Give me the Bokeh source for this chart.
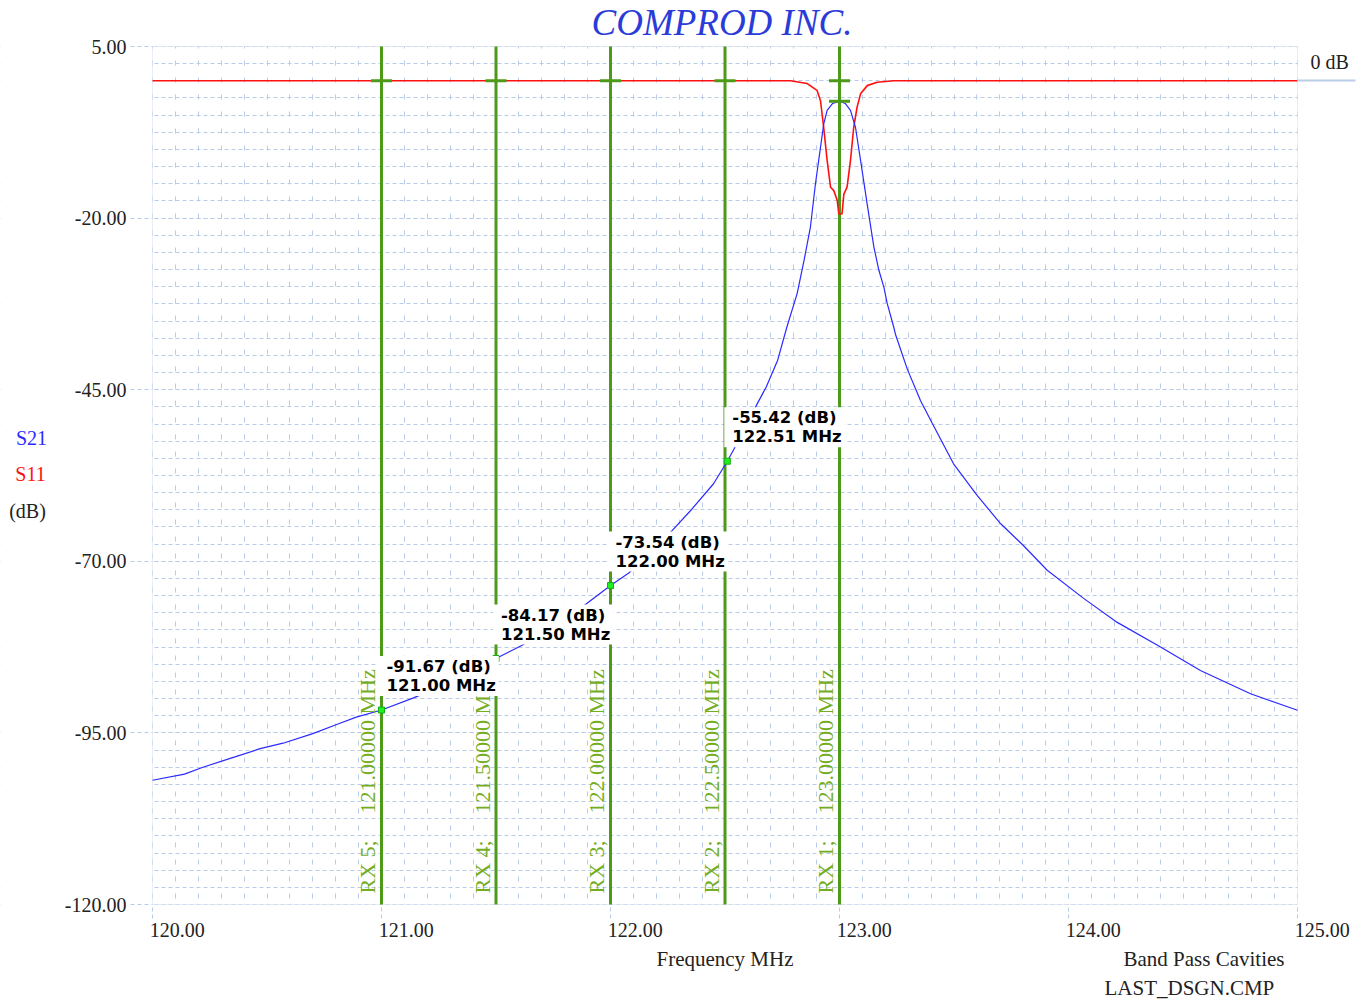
import numpy as np
from bokeh.plotting import figure
from bokeh.models import (FixedTicker, PrintfTickFormatter, LinearAxis, ColumnDataSource,
                          Label, BoxAnnotation)
from bokeh.core.properties import value
from bokeh.embed import file_html
from bokeh.resources import INLINE

# ---------------- data ----------------
s21_freq = [120.00, 120.14, 120.22, 120.36, 120.47, 120.57, 120.70, 120.81, 120.89, 121.00,
            121.14, 121.30, 121.50, 121.61, 121.80, 122.00, 122.08, 122.27, 122.35, 122.45,
            122.51, 122.54, 122.64, 122.68, 122.73, 122.77, 122.815, 122.845, 122.873, 122.895,
            122.917, 122.931, 122.946, 122.97, 123.00, 123.025, 123.048, 123.07, 123.092, 123.121,
            123.15, 123.172, 123.194, 123.208, 123.237, 123.245, 123.296, 123.354, 123.405, 123.498,
            123.601, 123.703, 123.803, 123.907, 124.066, 124.213, 124.402, 124.576, 124.795, 125.00]
s21_db = [-101.9, -101.0, -100.0, -98.5, -97.3, -96.5, -95.1, -93.7, -92.7, -91.67,
          -89.9, -87.6, -84.17, -82.3, -78.6, -73.54, -71.7, -65.5, -62.6, -58.7,
          -55.42, -53.6, -47.1, -44.6, -40.7, -35.9, -31.0, -26.2, -21.3, -15.0,
          -9.7, -6.3, -4.3, -3.3, -2.97, -3.3, -4.3, -6.8, -11.6, -18.0,
          -24.2, -27.6, -30.1, -32.4, -35.9, -37.0, -42.0, -46.6, -49.9, -55.8,
          -60.4, -64.5, -67.7, -71.3, -75.4, -78.9, -82.5, -85.9, -89.3, -91.7]

s11_freq = [120.00, 122.786, 122.859, 122.902, 122.917, 122.931, 122.946, 122.961, 122.975, 122.990,
            122.997, 123.011, 123.019, 123.033, 123.048, 123.062, 123.077, 123.092, 123.121, 123.164,
            123.237, 125.00]
s11_db = [0.0, 0.0, -0.4, -1.4, -2.9, -6.8, -11.6, -15.5, -16.0, -17.4,
          -19.4, -19.4, -16.5, -15.5, -11.6, -6.8, -3.8, -1.9, -0.7, -0.2,
          0.0, 0.0]

rx_freq = [121.0, 121.5, 122.0, 122.5, 123.0]
rx_names = ["RX 5;", "RX 4;", "RX 3;", "RX 2;", "RX 1;"]
rx_freq_text = ["121.00000 MHz", "121.50000 MHz", "122.00000 MHz", "122.50000 MHz", "123.00000 MHz"]
rx_ref_db = [0.0, 0.0, 0.0, 0.0, 0.0]

mk_freq = [121.00, 121.50, 122.00, 122.51]
mk_db = [-91.67, -84.17, -73.54, -55.42]
mk_text = [f"{d:.2f} (dB)\n{f:.2f} MHz" for f, d in zip(mk_freq, mk_db)]

peak_freq = [123.00]
peak_db = [-2.97]

x_ticks = [120, 121, 122, 123, 124, 125]
y_ticks = [-120, -95, -70, -45, -20, 5]
X_MIN, X_MAX = 120, 125
Y_MIN, Y_MAX = -120, 5

title_text = "COMPROD INC."
x_title = "Frequency MHz"
ref_label = "0 dB"
note_lines = ["Band Pass Cavities", "LAST_DSGN.CMP"]

# ---------------- layout ----------------
W, H = 1357, 1000                   # canvas
PL, PT, PW, PH = 152, 46, 1145, 858  # plot area inside the canvas (pixels)
kx = PW / (X_MAX - X_MIN)
ky = PH / (Y_MAX - Y_MIN)
xr = (X_MIN - PL / kx, X_MAX + (W - PL - PW) / kx)
yr = (Y_MIN - (H - PT - PH) / ky, Y_MAX + PT / ky)

GRID = "#b9cbe6"
GREEN = "#4c9a18"
RXTXT = "#74ad1f"
SERIF = "Liberation Serif"
INK = "#222222"

p = figure(width=W, height=H, x_range=xr, y_range=yr, title=None,
           output_backend="svg", toolbar_location=None,
           min_border=0, min_border_left=0, min_border_right=0, min_border_top=0, min_border_bottom=0,
           background_fill_color="white", border_fill_color="white", outline_line_color=None)

xt = FixedTicker(ticks=x_ticks, minor_ticks=[round(v, 2) for v in np.arange(120, 125.001, 0.1)])
yt = FixedTicker(ticks=y_ticks, minor_ticks=[round(v, 2) for v in np.arange(-120, 5.001, 2.5)])

# grids
p.xgrid.ticker = xt
p.ygrid.ticker = yt
p.xgrid.grid_line_color = GRID
p.xgrid.grid_line_dash = "5 12"
p.xgrid.minor_grid_line_color = GRID
p.xgrid.minor_grid_line_dash = "5 12"
p.ygrid.grid_line_color = GRID
p.ygrid.grid_line_dash = "4 3"
p.ygrid.minor_grid_line_color = GRID
p.ygrid.minor_grid_line_dash = "4 3"

# white surround outside the plot area, then the plot-area border
for kw in [dict(left=xr[0], right=X_MIN, bottom=yr[0], top=yr[1]),
           dict(left=X_MAX, right=xr[1], bottom=yr[0], top=yr[1]),
           dict(left=xr[0], right=xr[1], bottom=Y_MAX, top=yr[1]),
           dict(left=xr[0], right=xr[1], bottom=yr[0], top=Y_MIN)]:
    p.add_layout(BoxAnnotation(**kw, fill_color="white", fill_alpha=1.0, line_color=None,
                               level="underlay"))
p.add_layout(BoxAnnotation(left=X_MIN, right=X_MAX, bottom=Y_MIN, top=Y_MAX, fill_color=None,
                           fill_alpha=0, line_color=GRID, line_width=1, level="underlay"))

# --- y axis at the left edge of the plot area ---
p.yaxis.fixed_location = X_MIN
p.yaxis.bounds = (Y_MIN, Y_MAX)
p.yaxis.ticker = yt
p.yaxis.formatter = PrintfTickFormatter(format="%.2f")
p.yaxis.axis_line_color = None
p.yaxis.major_tick_in = 0
p.yaxis.major_tick_out = 22
p.yaxis.major_tick_line_color = GRID
p.yaxis.major_tick_line_dash = "4 3"
p.yaxis.minor_tick_line_color = None
p.yaxis.major_label_standoff = 4
p.yaxis.major_label_text_font = SERIF
p.yaxis.major_label_text_font_size = "20px"
p.yaxis.major_label_text_color = INK

# --- x axis at the bottom edge: labels start at their tick ---
lab_shift = 0.108
x_lab_pos = [round(t + lab_shift, 3) for t in x_ticks]
p.xaxis.fixed_location = Y_MIN
p.xaxis.ticker = FixedTicker(ticks=x_lab_pos)
p.xaxis.major_label_overrides = {pos: f"{t:.2f}" for pos, t in zip(x_lab_pos, x_ticks)}
p.xaxis.axis_line_color = None
p.xaxis.major_tick_line_color = None
p.xaxis.minor_tick_line_color = None
p.xaxis.major_tick_in = 0
p.xaxis.major_tick_out = 0
p.xaxis.major_label_standoff = 18
p.xaxis.major_label_text_font = SERIF
p.xaxis.major_label_text_font_size = "20px"
p.xaxis.major_label_text_color = INK

# dashed x tick marks at the real tick positions
xtick_axis = LinearAxis(fixed_location=Y_MIN, ticker=xt, axis_line_color=None,
                        major_tick_out=14, major_tick_in=0, major_tick_line_color=GRID,
                        major_tick_line_dash="4 3", minor_tick_line_color=None,
                        major_label_overrides={t: "" for t in x_ticks})
p.add_layout(xtick_axis, "below")

# right-hand 0 dB reference tick
ra = LinearAxis(fixed_location=X_MAX, ticker=FixedTicker(ticks=[0]), axis_line_color=None,
                major_tick_out=58, major_tick_in=0, major_tick_line_color=GRID,
                major_tick_line_width=2, minor_tick_line_color=None,
                major_label_overrides={0: ""}, major_label_standoff=0)
p.add_layout(ra, "right")

# ---------------- glyphs ----------------
rx_src = ColumnDataSource(dict(x=rx_freq, y0=[Y_MIN] * len(rx_freq), y1=[Y_MAX] * len(rx_freq),
                               name=rx_names, ft=rx_freq_text, ref=rx_ref_db))
p.segment(x0="x", y0="y0", x1="x", y1="y1", source=rx_src, line_color=GREEN, line_width=3)

p.line(s11_freq, s11_db, line_color="#ff1010", line_width=1.6)
p.line(s21_freq, s21_db, line_color="#2a2aff", line_width=1.2)

p.text(x="x", y="y0", text="name", source=rx_src, angle=np.pi / 2, x_offset=-14, y_offset=-11,
       text_align="left", text_baseline="middle", text_font=value(SERIF),
       text_font_size="22px", text_color=RXTXT)
p.text(x="x", y="y0", text="ft", source=rx_src, angle=np.pi / 2, x_offset=-14, y_offset=-91,
       text_align="left", text_baseline="middle", text_font=value(SERIF),
       text_font_size="22px", text_color=RXTXT)

p.scatter(x="x", y="ref", source=rx_src, marker="dash", size=21, line_color=GREEN, line_width=3)
p.scatter(peak_freq, peak_db, marker="dash", size=21, line_color=GREEN, line_width=3)

p.scatter(mk_freq, mk_db, marker="square", size=6, fill_color="#22ee22", line_color="#10b010")

mk_src = ColumnDataSource(dict(x=mk_freq, y=mk_db, t=mk_text))
p.text(x="x", y="y", text="t", source=mk_src, x_offset=-3, y_offset=-14,
       text_align="left", text_baseline="bottom", text_font=value("DejaVu Sans"),
       text_font_style="bold", text_font_size="16.5px", text_color="black", text_line_height=1.0,
       background_fill_color="white", padding=dict(left=8, right=3, top=1, bottom=1))

# ---------------- texts around the plot area ----------------
def lab(x, y, text, xo=0, yo=0, align="left", base="middle", size="20px", color=INK, style="normal"):
    p.add_layout(Label(x=x, y=y, x_offset=xo, y_offset=yo, text=text, text_align=align,
                       text_baseline=base, text_font=SERIF, text_font_size=size,
                       text_font_style=style, text_color=color))

lab(122.5, Y_MAX, title_text, xo=-3, yo=24, align="center", base="middle", size="37px",
    color="#2a3cd8", style="italic")
lab(X_MIN, -52.1, "S21", xo=-121, align="center", color="#2a2aff")
lab(X_MIN, -57.35, "S11", xo=-122, align="center", color="#ff1010")
lab(X_MIN, -62.6, "(dB)", xo=-125, align="center")
lab(X_MAX, 0, ref_label, xo=13, yo=19)
lab(122.5, Y_MIN, x_title, yo=-54, align="center", size="21px")
lab(X_MAX, Y_MIN, note_lines[0], xo=-174, yo=-54, size="21px")
lab(X_MAX, Y_MIN, note_lines[1], xo=-193, yo=-83, size="21px")

open("out.html", "w").write(file_html(p, INLINE))
